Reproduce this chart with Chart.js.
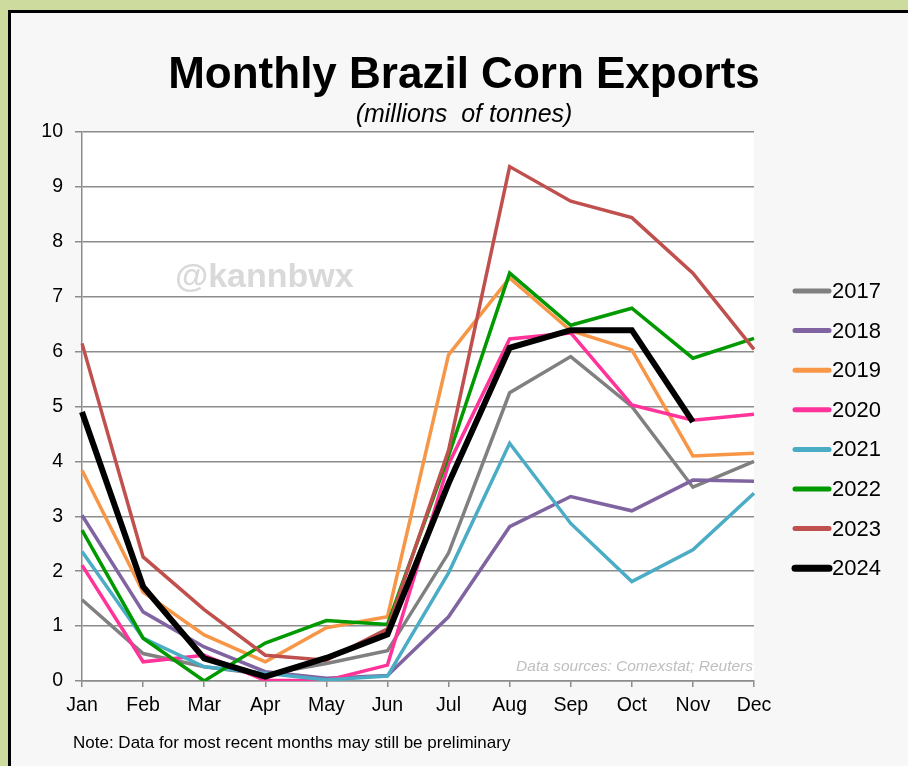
<!DOCTYPE html>
<html>
<head>
<meta charset="utf-8">
<script src="https://cdn.jsdelivr.net/npm/chart.js@4/dist/chart.umd.min.js"></script>
<style>
  html, body { margin: 0; padding: 0; background: #cddc9e; }
  canvas { display: block; }
</style>
</head>
<body>
<canvas id="exportsChart" width="908" height="766"></canvas>
<script>
const months = ['Jan', 'Feb', 'Mar', 'Apr', 'May', 'Jun', 'Jul', 'Aug', 'Sep', 'Oct', 'Nov', 'Dec'];
const years = ['2017', '2018', '2019', '2020', '2021', '2022', '2023', '2024'];
const yearColors = ['#808080', '#8064a2', '#f79646', '#ff3399', '#4bacc6', '#009a00', '#c0504d', '#000000'];

// millions of tonnes
const exports2017 = [1.48, 0.50, 0.26, 0.12, 0.32, 0.55, 2.33, 5.25, 5.91, 5.00, 3.53, 4.00];
const exports2018 = [3.02, 1.26, 0.62, 0.17, 0.05, 0.10, 1.17, 2.81, 3.36, 3.10, 3.66, 3.64];
const exports2019 = [3.84, 1.62, 0.84, 0.35, 0.97, 1.17, 5.94, 7.34, 6.38, 6.03, 4.10, 4.15];
const exports2020 = [2.11, 0.35, 0.47, 0.01, 0.01, 0.29, 3.95, 6.23, 6.34, 5.03, 4.75, 4.86];
const exports2021 = [2.36, 0.78, 0.26, 0.14, 0.02, 0.09, 1.97, 4.33, 2.87, 1.81, 2.39, 3.42];
const exports2022 = [2.75, 0.78, 0.00, 0.69, 1.10, 1.03, 4.10, 7.43, 6.48, 6.79, 5.88, 6.24];
const exports2023 = [6.15, 2.26, 1.30, 0.47, 0.38, 0.95, 4.20, 9.37, 8.74, 8.44, 7.43, 6.04];
const exports2024 = [4.90, 1.72, 0.41, 0.08, 0.42, 0.85, 3.60, 6.07, 6.39, 6.39, 4.72, null];

const yearSeries = [exports2017, exports2018, exports2019, exports2020, exports2021, exports2022, exports2023, exports2024];

const datasets = years.map((year, i) => ({
    label: year,
    data: yearSeries[i],
    borderColor: yearColors[i],
    backgroundColor: yearColors[i],
    borderWidth: year === '2024' ? 6 : 3.5,
    pointRadius: 0,
    pointHoverRadius: 0,
    tension: 0,
    fill: false,
    order: years.length - i   // later years drawn on top
}));

const gridGrey = '#8c8c8c';

// frame, titles, watermark, notes and legend
const decorations = {
    id: 'decorations',
    beforeDraw(chart) {
        const ctx = chart.ctx;
        const area = chart.chartArea;
        ctx.save();
        ctx.fillStyle = '#cddc9e';
        ctx.fillRect(0, 0, chart.width, chart.height);
        ctx.fillStyle = '#000';
        ctx.fillRect(8, 10, chart.width, chart.height);
        ctx.fillStyle = '#f7f7f7';
        ctx.fillRect(11, 13, chart.width, chart.height);
        ctx.fillStyle = '#ffffff';
        ctx.fillRect(area.left, area.top, area.right - area.left, area.bottom - area.top);

        ctx.fillStyle = '#d9d9d9';
        ctx.font = 'bold 34px "Liberation Sans", Arial, sans-serif';
        ctx.textAlign = 'left';
        ctx.textBaseline = 'alphabetic';
        ctx.fillText('@kannbwx', 175, 287);

        ctx.fillStyle = '#bfbfbf';
        ctx.font = 'italic 15.5px "Liberation Sans", Arial, sans-serif';
        ctx.textAlign = 'right';
        ctx.fillText('Data sources: Comexstat; Reuters', area.right - 1, 671);
        ctx.restore();
    },
    afterDraw(chart) {
        const ctx = chart.ctx;
        ctx.save();
        ctx.fillStyle = '#000';
        ctx.textAlign = 'center';
        ctx.textBaseline = 'alphabetic';
        ctx.font = 'bold 44px "Liberation Sans", Arial, sans-serif';
        ctx.fillText('Monthly Brazil Corn Exports', 464, 88);
        ctx.font = 'italic 25px "Liberation Sans", Arial, sans-serif';
        ctx.fillText('(millions  of tonnes)', 464, 122);

        ctx.textAlign = 'left';
        ctx.font = '17px "Liberation Sans", Arial, sans-serif';
        ctx.fillText('Note: Data for most recent months may still be preliminary', 73, 748);

        // legend
        ctx.font = '22px "Liberation Sans", Arial, sans-serif';
        ctx.textBaseline = 'middle';
        ctx.lineCap = 'round';
        chart.data.datasets.forEach((ds, i) => {
            const y = 291 + i * 39.6;
            ctx.strokeStyle = ds.borderColor;
            ctx.lineWidth = ds.label === '2024' ? 7 : 5;
            ctx.beginPath();
            ctx.moveTo(795, y);
            ctx.lineTo(829, y);
            ctx.stroke();
            ctx.fillStyle = '#000';
            ctx.fillText(ds.label, 832, y + 1);
        });
        ctx.restore();
    }
};

new Chart(document.getElementById('exportsChart'), {
    type: 'line',
    data: {
        labels: months,
        datasets: datasets
    },
    options: {
        responsive: false,
        animation: false,
        devicePixelRatio: 1,
        layout: {
            padding: { left: 20, right: 154, top: 132, bottom: 45 }
        },
        plugins: {
            legend: { display: false },
            title: { display: false },
            tooltip: { enabled: false }
        },
        scales: {
            x: {
                offset: false,
                afterFit: (scale) => { scale.height = 40; },
                grid: {
                    drawOnChartArea: false,
                    drawTicks: true,
                    tickLength: 6,
                    color: gridGrey,
                    lineWidth: 1.5
                },
                border: { display: true, color: gridGrey, width: 1.5 },
                ticks: {
                    color: '#000',
                    padding: 7,
                    maxRotation: 0,
                    autoSkip: false,
                    font: { family: '"Liberation Sans", Arial, sans-serif', size: 19.5 }
                }
            },
            y: {
                min: 0,
                max: 10,
                afterFit: (scale) => { scale.width = 62; },
                grid: {
                    color: gridGrey,
                    lineWidth: 1.5,
                    drawTicks: true,
                    tickLength: 7
                },
                border: { display: true, color: gridGrey, width: 1.5 },
                ticks: {
                    stepSize: 1,
                    color: '#000',
                    padding: 12,
                    font: { family: '"Liberation Sans", Arial, sans-serif', size: 19.5 }
                }
            }
        }
    },
    plugins: [decorations]
});
</script>
</body>
</html>
